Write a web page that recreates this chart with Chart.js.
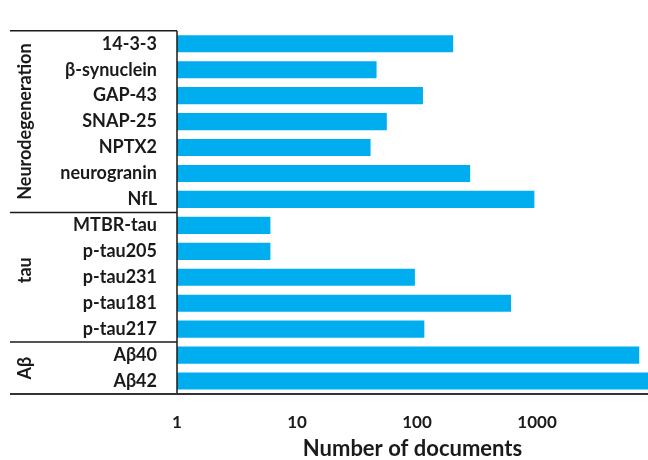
<!DOCTYPE html>
<html>
<head>
<meta charset="utf-8">
<script src="https://cdn.jsdelivr.net/npm/chart.js@4"></script>
<style>
  html, body { margin: 0; padding: 0; background: #fff; }
  canvas { display: block; }
</style>
</head>
<body>
<canvas id="chart" width="648" height="460"></canvas>
<script>
// Biomarker names, top to bottom
const markers = [
  '14-3-3', 'β-synuclein', 'GAP-43', 'SNAP-25', 'NPTX2', 'neurogranin', 'NfL',
  'MTBR-tau', 'p-tau205', 'p-tau231', 'p-tau181', 'p-tau217',
  'Aβ40', 'Aβ42'
];
// Number of documents per biomarker
const documents = [
  200, 46, 112, 56, 41, 277, 950,
  6, 6, 96, 607, 115,
  7100, 8400
];
// Biomarker groups: label and how many markers belong to it
const groupNames = ['Neurodegeneration', 'tau', 'Aβ'];
const groupSizes = [7, 5, 2];
// Log axis tick values
const xTicks = [1, 10, 100, 1000];
const xMin = 1;
const xMax = 8400;

const FONT = 'Lato, "Open Sans", sans-serif';
const INK = '#1a1a1a';

// Frame around the category labels, group separators and group titles
const groupFrame = {
  id: 'groupFrame',
  afterDraw(chart) {
    const { ctx, chartArea, scales } = chart;
    const y = scales.y;
    const left = 10;
    const half = (y.getPixelForValue(1) - y.getPixelForValue(0)) / 2;
    ctx.save();
    ctx.strokeStyle = INK;
    ctx.lineWidth = 1.5;
    ctx.beginPath();
    // top edge
    ctx.moveTo(left, chartArea.top);
    ctx.lineTo(chartArea.left, chartArea.top);
    // vertical axis line
    ctx.moveTo(chartArea.left, chartArea.top);
    ctx.lineTo(chartArea.left, chartArea.bottom);
    ctx.stroke();
    // bottom edge, running under the bars too
    ctx.lineWidth = 2;
    ctx.strokeStyle = '#333';
    ctx.beginPath();
    ctx.moveTo(left, chartArea.bottom);
    ctx.lineTo(chartArea.right, chartArea.bottom);
    ctx.stroke();

    // group separators and labels
    ctx.lineWidth = 1.5;
    ctx.strokeStyle = INK;
    ctx.fillStyle = INK;
    ctx.font = 'bold 18px ' + FONT;
    ctx.textAlign = 'center';
    ctx.textBaseline = 'middle';
    const nudges = [0, -7, 0];
    let start = 0;
    groupSizes.forEach((n, g) => {
      const end = start + n - 1;
      const yTop = y.getPixelForValue(start) - half;
      const yBot = y.getPixelForValue(end) + half;
      if (g > 0) {
        ctx.beginPath();
        ctx.moveTo(left, yTop);
        ctx.lineTo(chartArea.left, yTop);
        ctx.stroke();
      }
      ctx.save();
      ctx.translate(25, (yTop + yBot) / 2 + nudges[g]);
      ctx.rotate(-Math.PI / 2);
      ctx.fillText(groupNames[g], 0, 0);
      ctx.restore();
      start += n;
    });
    ctx.restore();
  }
};

new Chart(document.getElementById('chart'), {
  type: 'bar',
  data: {
    labels: markers,
    datasets: [{
      data: documents,
      backgroundColor: '#00AEEF',
      borderWidth: 0,
      barPercentage: 0.66,
      categoryPercentage: 1.0
    }]
  },
  options: {
    indexAxis: 'y',
    responsive: false,
    animation: false,
    layout: { padding: { top: 12, right: 0, left: 0, bottom: 0 } },
    plugins: { legend: { display: false }, tooltip: { enabled: false } },
    scales: {
      x: {
        type: 'logarithmic',
        min: xMin,
        max: xMax,
        afterBuildTicks(scale) {
          scale.ticks = xTicks.map(v => ({ value: v }));
        },
        afterFit(scale) { scale.height = 66; },
        grid: { display: false, drawTicks: false },
        border: { display: false },
        ticks: {
          color: INK,
          font: { family: FONT, size: 17, weight: 'bold' },
          padding: 18,
          maxRotation: 0,
          autoSkip: false,
          callback: v => String(v)
        },
        title: {
          display: true,
          text: 'Number of documents',
          color: INK,
          font: { family: FONT, size: 22, weight: 'bold', lineHeight: 1 },
          padding: { top: 0, bottom: 0 }
        }
      },
      y: {
        afterFit(scale) { scale.width = 177; },
        grid: { display: false, drawTicks: false },
        border: { display: false },
        ticks: {
          color: INK,
          font: { family: FONT, size: 18, weight: 'bold' },
          padding: 20,
          autoSkip: false
        }
      }
    }
  },
  plugins: [groupFrame]
});
</script>
</body>
</html>
